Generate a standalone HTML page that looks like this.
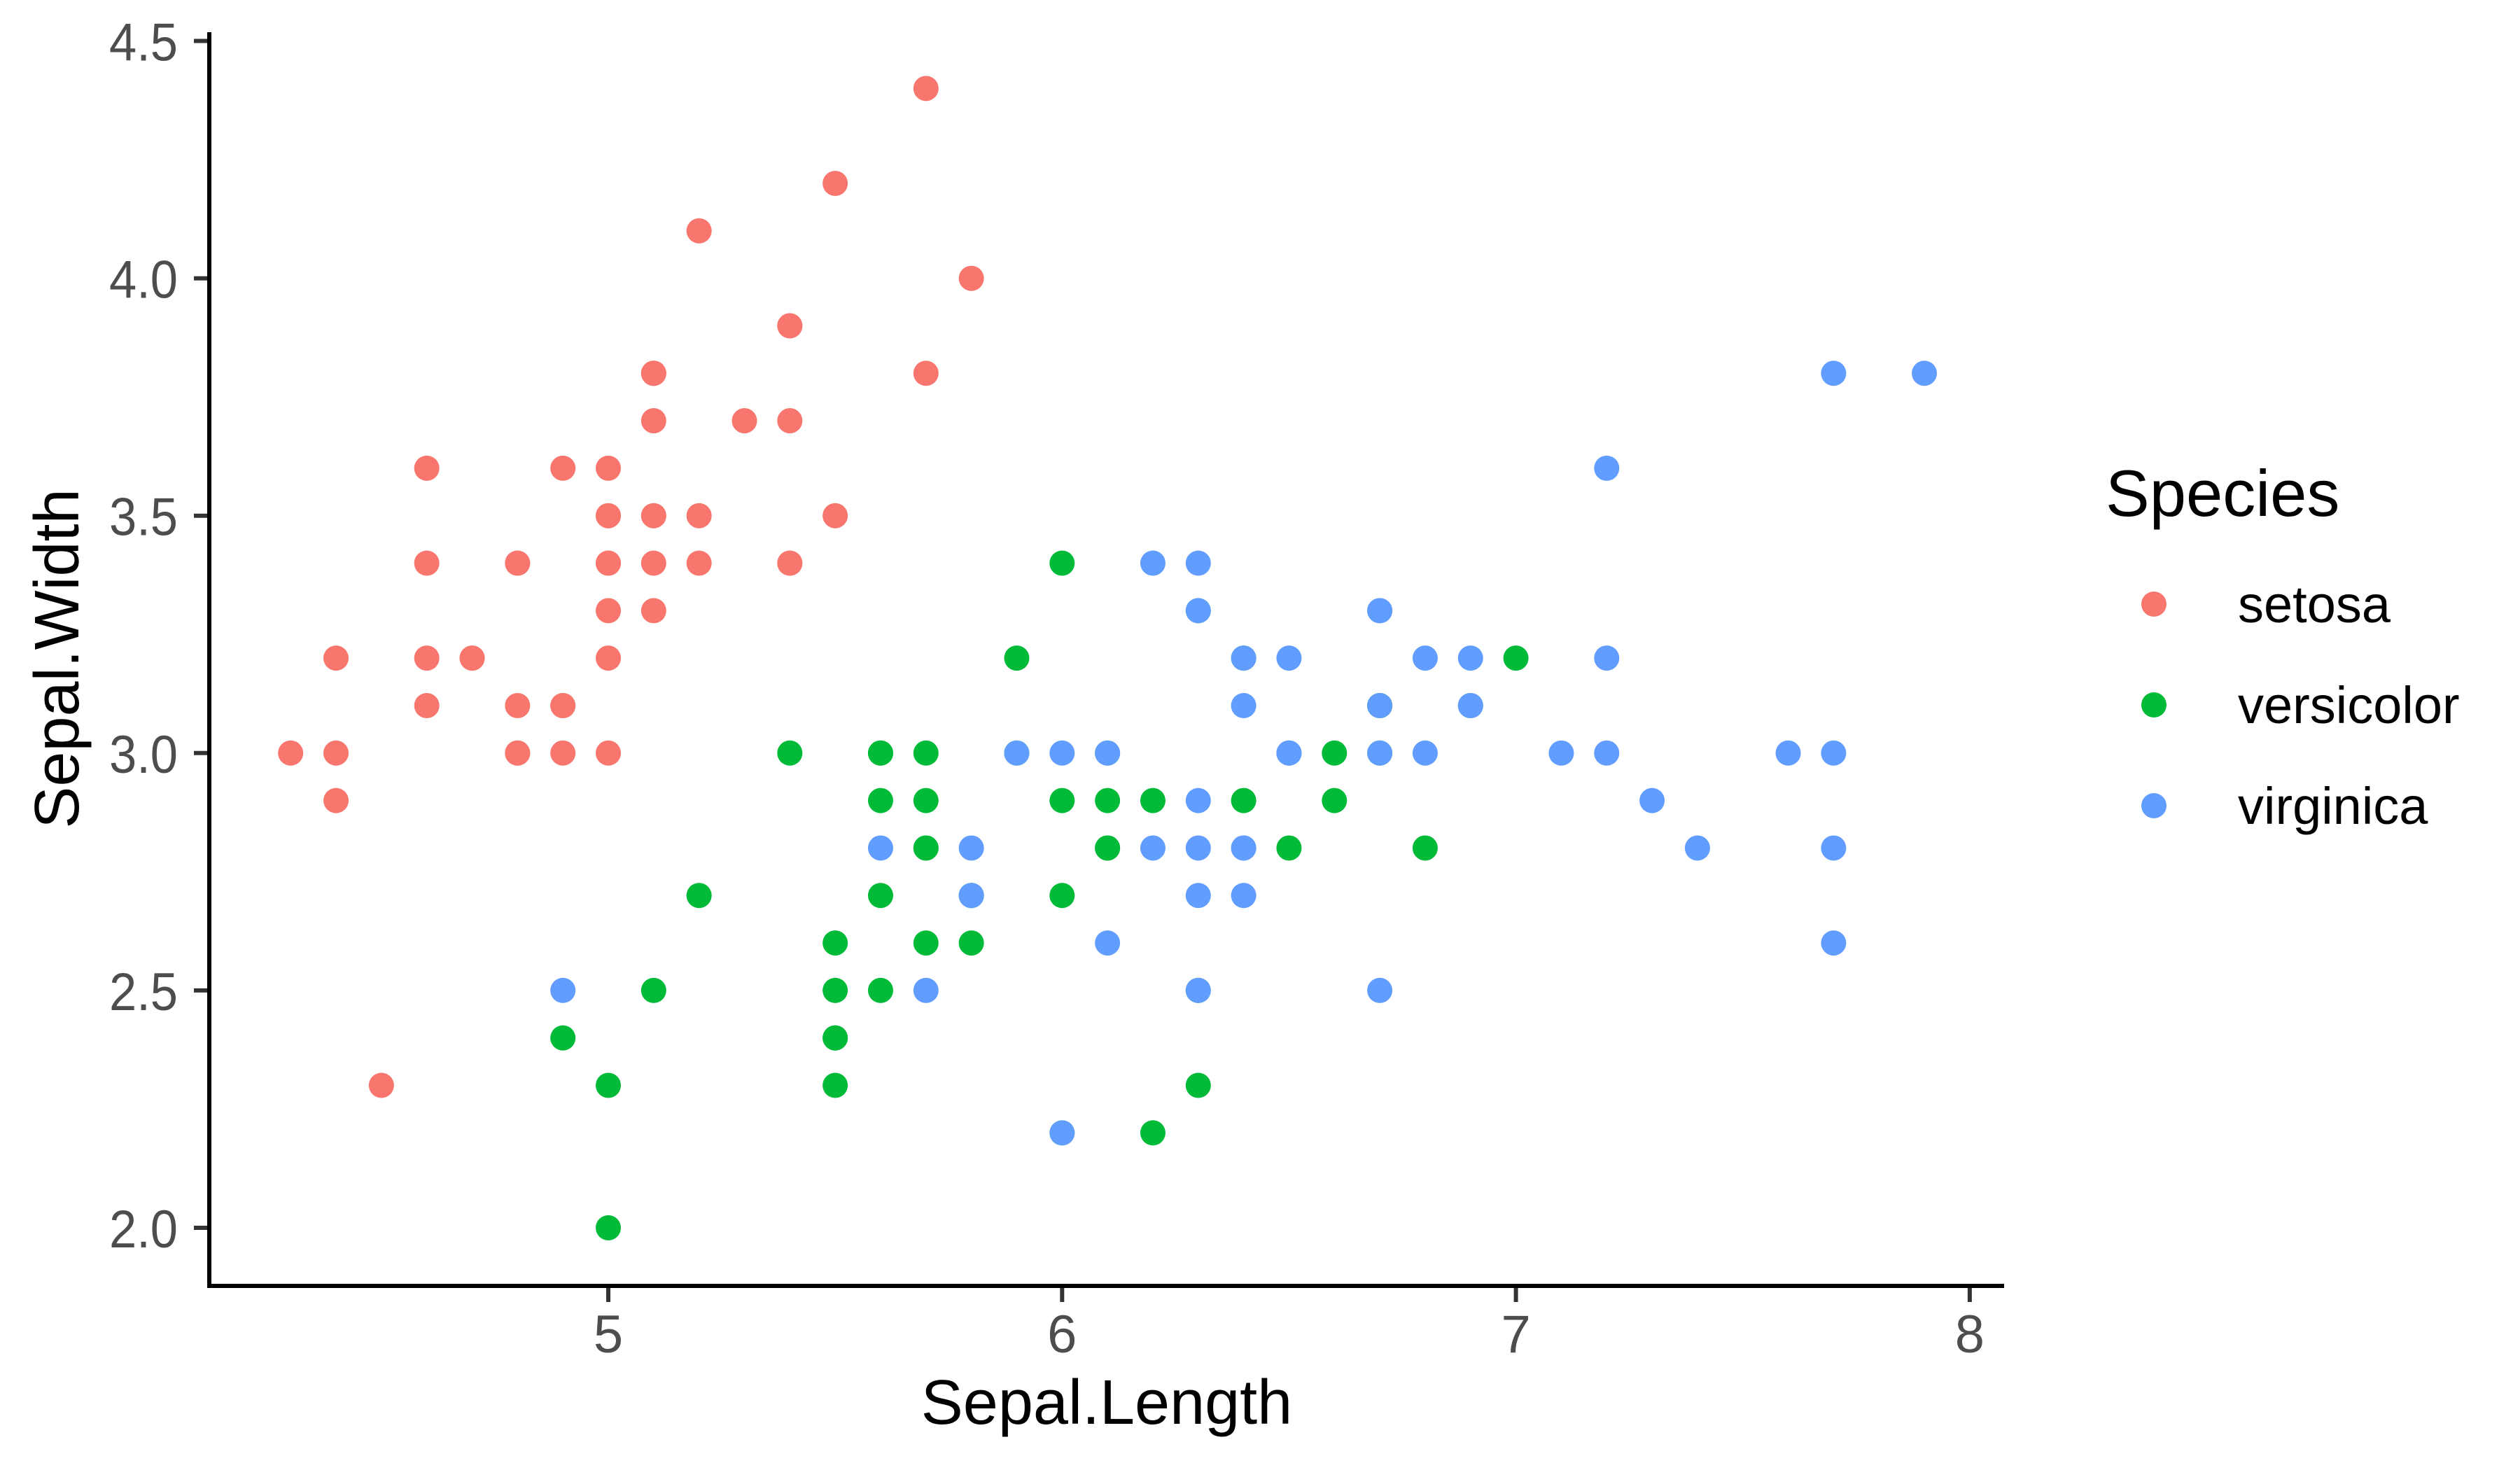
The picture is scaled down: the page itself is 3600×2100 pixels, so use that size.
<!DOCTYPE html>
<html><head><meta charset="utf-8"><style>
html,body{margin:0;padding:0;background:#fff;}
svg{display:block;font-family:"Liberation Sans",Arial,sans-serif;}
</style></head><body>
<svg id="chart" width="3600" height="2100" viewBox="0 0 3600 2100">
<rect width="3600" height="2100" fill="#fff"/>
<g id="points"></g>
<g id="axes"></g>
<text x="1581" y="2034" font-size="90" text-anchor="middle" fill="#000">Sepal.Length</text>
<text transform="translate(112,941) rotate(-90)" font-size="90" text-anchor="middle" fill="#000">Sepal.Width</text>
<g>
<text x="3008" y="737" font-size="94" fill="#000">Species</text>
<g id="legend-entries"></g>
</g>
</svg>
<script>
const species = ["setosa","versicolor","virginica"];
const colors = ["#F8766D","#00BA38","#619CFF"];
const xTicks = [5,6,7,8];
const yTicks = [2.0,2.5,3.0,3.5,4.0,4.5];
const xTickLabels = ["5","6","7","8"];
const yTickLabels = ["2.0","2.5","3.0","3.5","4.0","4.5"];
const setosaLength = [5.1,4.9,4.7,4.6,5.0,5.4,4.6,5.0,4.4,4.9,5.4,4.8,4.8,4.3,5.8,5.7,5.4,5.1,5.7,5.1,5.4,5.1,4.6,5.1,4.8,5.0,5.0,5.2,5.2,4.7,4.8,5.4,5.2,5.5,4.9,5.0,5.5,4.9,4.4,5.1,5.0,4.5,4.4,5.0,5.1,4.8,5.1,4.6,5.3,5.0];
const setosaWidth = [3.5,3.0,3.2,3.1,3.6,3.9,3.4,3.4,2.9,3.1,3.7,3.4,3.0,3.0,4.0,4.4,3.9,3.5,3.8,3.8,3.4,3.7,3.6,3.3,3.4,3.0,3.4,3.5,3.4,3.2,3.1,3.4,4.1,4.2,3.1,3.2,3.5,3.6,3.0,3.4,3.5,2.3,3.2,3.5,3.8,3.0,3.8,3.2,3.7,3.3];
const versicolorLength = [7.0,6.4,6.9,5.5,6.5,5.7,6.3,4.9,6.6,5.2,5.0,5.9,6.0,6.1,5.6,6.7,5.6,5.8,6.2,5.6,5.9,6.1,6.3,6.1,6.4,6.6,6.8,6.7,6.0,5.7,5.5,5.5,5.8,6.0,5.4,6.0,6.7,6.3,5.6,5.5,5.5,6.1,5.8,5.0,5.6,5.7,5.7,6.2,5.1,5.7];
const versicolorWidth = [3.2,3.2,3.1,2.3,2.8,2.8,3.3,2.4,2.9,2.7,2.0,3.0,2.2,2.9,2.9,3.1,3.0,2.7,2.2,2.5,3.2,2.8,2.5,2.8,2.9,3.0,2.8,3.0,2.9,2.6,2.4,2.4,2.7,2.7,3.0,3.4,3.1,2.3,3.0,2.5,2.6,3.0,2.6,2.3,2.7,3.0,2.9,2.9,2.5,2.8];
const virginicaLength = [6.3,5.8,7.1,6.3,6.5,7.6,4.9,7.3,6.7,7.2,6.5,6.4,6.8,5.7,5.8,6.4,6.5,7.7,7.7,6.0,6.9,5.6,7.7,6.3,6.7,7.2,6.2,6.1,6.4,7.2,7.4,7.9,6.4,6.3,6.1,7.7,6.3,6.4,6.0,6.9,6.7,6.9,5.8,6.8,6.7,6.7,6.3,6.5,6.2,5.9];
const virginicaWidth = [3.3,2.7,3.0,2.9,3.0,3.0,2.5,2.9,2.5,3.6,3.2,2.7,3.0,2.5,2.8,3.2,3.0,3.8,2.6,2.2,3.2,2.8,2.8,2.7,3.3,3.2,2.8,3.0,2.8,3.0,2.8,3.8,2.8,2.8,2.6,3.0,3.4,3.1,3.0,3.1,3.1,3.1,2.7,3.2,3.3,3.0,2.5,3.0,3.4,3.0];

const NS = "http://www.w3.org/2000/svg";
const X0 = 869, XU = 648.3;
const Y0 = 1754, YU = 678.2;
function sx(v){ return X0 + (v - 5) * XU; }
function sy(v){ return Y0 - (v - 2) * YU; }
function mk(tag, attrs, parent){
  const e = document.createElementNS(NS, tag);
  for (const k in attrs) e.setAttribute(k, attrs[k]);
  parent.appendChild(e);
  return e;
}
const pts = document.getElementById("points");
const series = [[setosaLength,setosaWidth],[versicolorLength,versicolorWidth],[virginicaLength,virginicaWidth]];
series.forEach((s, si) => {
  s[0].forEach((xv, i) => {
    const c = mk("circle", {cx: sx(xv), cy: sy(s[1][i]), r: 18, fill: colors[si]}, pts);
    
    
  });
});

const ax = document.getElementById("axes");
const yl = mk("line", {x1: 299, y1: 46, x2: 299, y2: 1840, stroke: "#000", "stroke-width": 6}, ax);


const xl = mk("line", {x1: 296, y1: 1837, x2: 2863, y2: 1837, stroke: "#000", "stroke-width": 6}, ax);



xTicks.forEach((v, i) => {
  const t = mk("line", {x1: sx(v), y1: 1840, x2: sx(v), y2: 1860, stroke: "#333", "stroke-width": 6}, ax);
  
  
  const l = mk("text", {x: sx(v), y: 1932, "font-size": 76, "text-anchor": "middle", fill: "#4d4d4d"}, ax);
  l.textContent = xTickLabels[i];
  
  
});
yTicks.forEach((v, i) => {
  const t = mk("line", {x1: 277, y1: sy(v), x2: 296, y2: sy(v), stroke: "#333", "stroke-width": 6}, ax);
  
  
  const l = mk("text", {x: 254, y: sy(v) + 28, "font-size": 76, "text-anchor": "end", fill: "#4d4d4d", textLength: 98, lengthAdjust: "spacingAndGlyphs"}, ax);
  l.textContent = yTickLabels[i];
  
  
});

const lg = document.getElementById("legend-entries");
const legendY = [863, 1007, 1151];
species.forEach((s, i) => {
  const c = mk("circle", {cx: 3077, cy: legendY[i], r: 18, fill: colors[i]}, lg);
  
  
  const t = mk("text", {x: 3197, y: legendY[i] + 26, "font-size": 74, fill: "#000"}, lg);
  t.textContent = s;
  
  
});
</script>
</body></html>
